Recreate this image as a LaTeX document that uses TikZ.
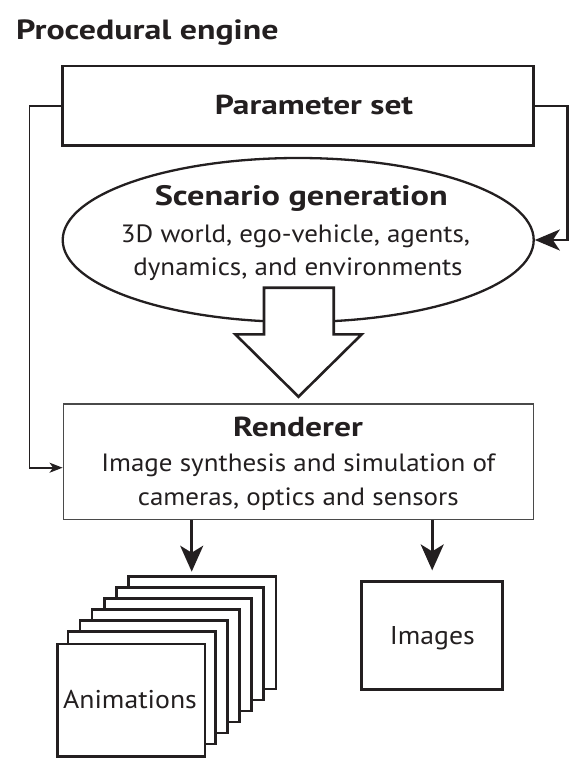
\documentclass[tikz,border=0pt]{standalone}
\usepackage{fontspec}
\setmainfont{PT Sans}[FakeStretch=1.08]
\newfontfamily\hdfont{PT Sans}[FakeStretch=1.22]
\usetikzlibrary{arrows.meta,shapes.geometric}
\definecolor{ink}{HTML}{231F20}
\definecolor{rgray}{HTML}{4A4A4A}
\newcommand{\fsz}[1]{\fontsize{#1}{#1}\selectfont}
\newcommand{\hd}[1]{\fontsize{#1}{#1}\hdfont\bfseries}
\begin{document}
\begin{tikzpicture}[x=1pt,y=-1pt,
  every node/.style={text=ink},
  thickbox/.style={draw=ink,line width=2.6pt,fill=white,rectangle,inner sep=0pt},
  txt/.style={anchor=base,inner sep=0pt},
  thinarrow/.style={draw=ink,line width=1.6pt,-{Stealth[length=13pt,width=10pt,inset=3.5pt]}},
  medarrow/.style={draw=ink,line width=2.3pt,-{Stealth[length=25pt,width=21pt,inset=7pt]}},
  bigarrow/.style={draw=ink,line width=2.6pt,-{Stealth[length=26pt,width=23pt,inset=7pt]}},
  frame/.style={draw=ink,line width=2.6pt,fill=white}]
\useasboundingbox (0,0) rectangle (582,765);

% title
\node[txt,anchor=base west] (title) at (16,39.3) {\hd{27.8}Procedural engine};

% parameter set
\node[thickbox,minimum width=471pt,minimum height=79.7pt] (param) at (298.2,105.8) {};
\node[txt] (paramtxt) at (314,115) {\hd{27.4}Parameter set};

% scenario ellipse
\node[ellipse,draw=ink,line width=2.3pt,fill=white,minimum width=471pt,minimum height=164pt,inner sep=0pt] (scen) at (298.2,240) {};
\node[txt] (scen1) at (301.3,205.5) {\hd{28.1}Scenario generation};
\node[txt] (scen2) at (295.5,242.7) {\fsz{25}3D world, ego-vehicle, agents,};
\node[txt] (scen3) at (298,275) {\fsz{25}dynamics, and environments};

% big block arrow
\draw[draw=ink,line width=2.6pt,fill=white,line join=miter]
  (264,287.7) -- (333.7,287.7) -- (333.7,334.3) -- (361.7,334.3) -- (298.5,396.7) -- (235.3,334.3) -- (264,334.3) -- cycle;

% renderer
\node[draw=rgray,line width=1.5pt,fill=white,minimum width=470.4pt,minimum height=115.3pt,inner sep=0pt] (rend) at (298.5,461.7) {};
\node[txt] (rend1) at (298,436) {\hd{27.5}Renderer};
\node[txt] (rend2) at (298.3,471.7) {\fsz{25}Image synthesis and simulation of};
\node[txt] (rend3) at (298.3,505) {\fsz{25}cameras, optics and sensors};

% feedback connectors
\coordinate (lcorner) at (29.3,105.8);
\coordinate (rcorner) at (567.5,105.8);
\draw[thinarrow] (param.west) -- (lcorner) |- ([yshift=-6pt]rend.west);
\draw[medarrow] (param.east) -- (rcorner) |- (scen.east);

% animation stack
\foreach \i in {6,5,...,1}{
  \path[frame] ({56+\i*12.05},{642.7-\i*11}) rectangle ++(147.5,112.3);
}
\node[frame,minimum width=147.5pt,minimum height=112.3pt,inner sep=0pt,anchor=north west] (anim) at (56,642.7) {};
\node[txt] (animtxt) at (130,708.3) {\fsz{25.7}Animations};
\coordinate (animtop) at (191.7,576.7);

% images
\node[frame,minimum width=141pt,minimum height=107.6pt,inner sep=0pt] (img) at (432.2,635.5) {};
\node[txt] (imgtxt) at (432.3,644.3) {\fsz{25.7}Images};

% output arrows
\draw[bigarrow,shorten >=5pt] (rend.south -| animtop) -- (animtop);
\draw[bigarrow,shorten >=10pt] (rend.south -| img.north) -- (img.north);
\end{tikzpicture}
\end{document}
